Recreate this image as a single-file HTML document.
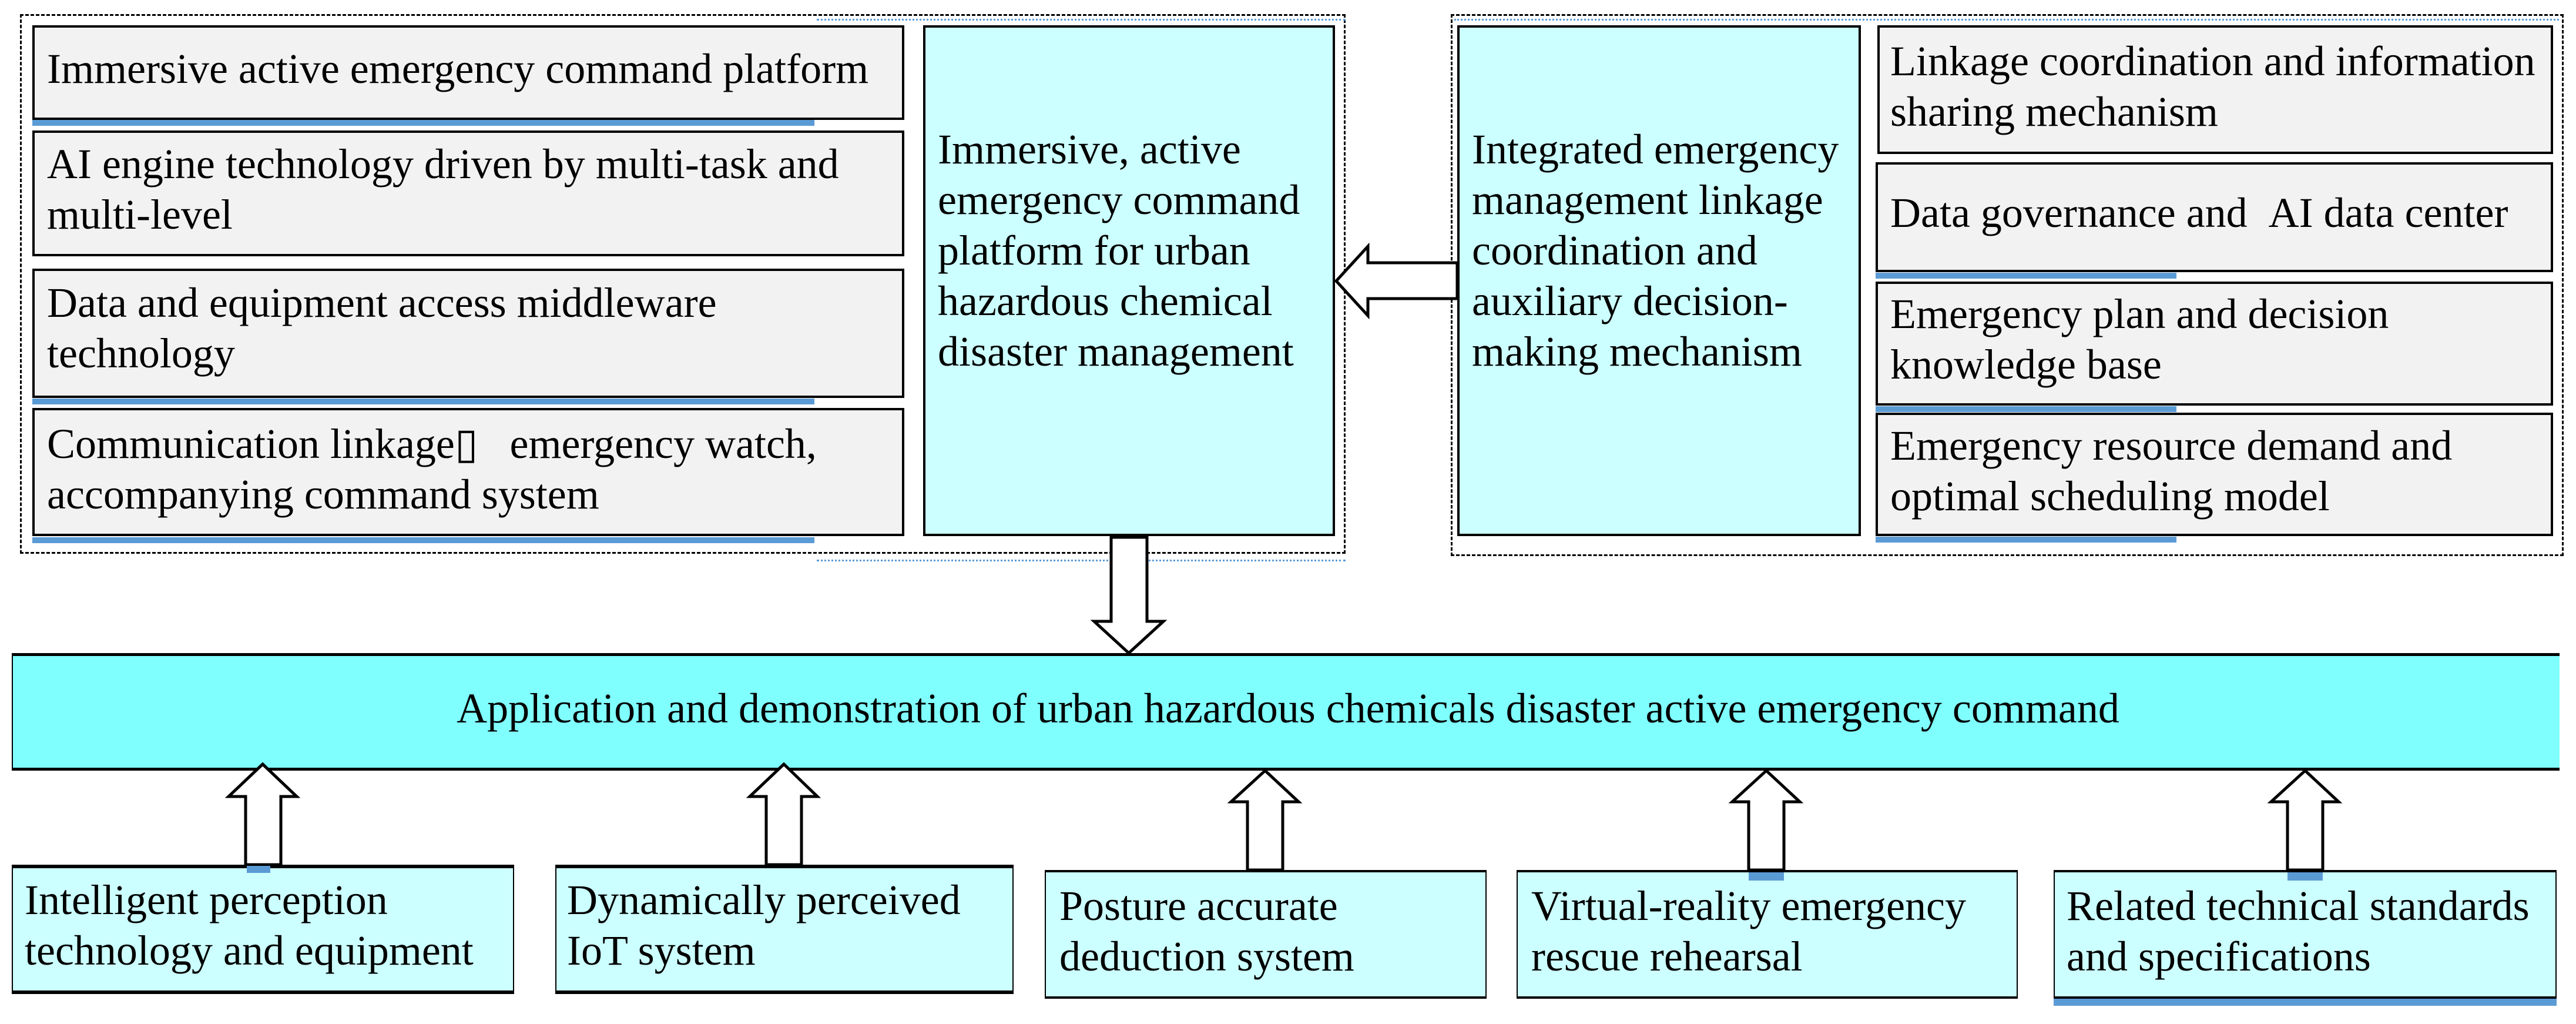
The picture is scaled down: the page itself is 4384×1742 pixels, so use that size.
<!DOCTYPE html>
<html><head><meta charset="utf-8"><style>
body{margin:0;width:4384px;height:1742px;background:#fff;position:relative;overflow:hidden;font-family:"Liberation Serif","Times New Roman",serif;}
.b{position:absolute;box-sizing:border-box;}
.g{background:#f2f2f2;border:4px solid #000;}
.c{background:#ccffff;border:4px solid #000;}
.t{position:absolute;font-size:72px;line-height:86px;color:#000;white-space:nowrap;}
.bar{position:absolute;background:#5b9bd5;height:10px;}
.d{position:absolute;box-sizing:border-box;border:3px dashed #000;}
</style></head><body>
<div class="d" style="left:34px;top:24px;width:2256px;height:918px"></div>
<div class="d" style="left:2469px;top:24px;width:1894px;height:922px"></div>
<div class="b" style="left:1390px;top:32px;width:900px;height:2px;border-top:3px dotted #5b9bd5"></div>
<div class="b" style="left:1390px;top:952px;width:900px;height:2px;border-top:3px dotted #5b9bd5"></div>
<div class="b" style="left:2475px;top:32px;width:1880px;height:2px;border-top:3px dotted #5b9bd5"></div>

<div class="b g" style="left:55px;top:43px;width:1484px;height:161px"></div>
<div class="bar" style="left:55px;top:204px;width:1331px"></div>
<div class="b g" style="left:55px;top:222px;width:1484px;height:214px"></div>
<div class="b g" style="left:55px;top:457px;width:1484px;height:220px"></div>
<div class="bar" style="left:55px;top:678px;width:1331px"></div>
<div class="b g" style="left:55px;top:694px;width:1484px;height:218px"></div>
<div class="bar" style="left:55px;top:914px;width:1331px"></div>
<div class="t" style="left:80px;top:74px">Immersive active emergency command platform</div>
<div class="t" style="left:80px;top:236px">AI engine technology driven by multi-task and<br>multi-level</div>
<div class="t" style="left:80px;top:472px">Data and equipment access middleware<br>technology</div>
<div class="t" style="left:80px;top:712px">Communication linkage&#9647;&nbsp;&nbsp;&nbsp;emergency watch,<br>accompanying command system</div>

<div class="b c" style="left:1571px;top:43px;width:701px;height:869px"></div>
<div class="t" style="left:1596px;top:211px">Immersive, active<br>emergency command<br>platform for urban<br>hazardous chemical<br>disaster management</div>

<div class="b c" style="left:2480px;top:43px;width:687px;height:869px"></div>
<div class="t" style="left:2505px;top:211px">Integrated emergency<br>management linkage<br>coordination and<br>auxiliary decision-<br>making mechanism</div>

<div class="b g" style="left:3195px;top:43px;width:1150px;height:219px"></div>
<div class="b g" style="left:3192px;top:276px;width:1153px;height:187px"></div>
<div class="bar" style="left:3192px;top:464px;width:512px"></div>
<div class="b g" style="left:3192px;top:479px;width:1153px;height:211px"></div>
<div class="bar" style="left:3192px;top:691px;width:512px"></div>
<div class="b g" style="left:3192px;top:702px;width:1153px;height:210px"></div>
<div class="bar" style="left:3192px;top:913px;width:512px"></div>
<div class="t" style="left:3217px;top:61px">Linkage coordination and information<br>sharing mechanism</div>
<div class="t" style="left:3217px;top:319px">Data governance and&nbsp;&nbsp;AI data center</div>
<div class="t" style="left:3217px;top:491px">Emergency plan and decision<br>knowledge base</div>
<div class="t" style="left:3217px;top:715px">Emergency resource demand and<br>optimal scheduling model</div>

<div class="b" style="left:20px;top:1111px;width:4336px;height:200px;background:#80ffff;border-top:5px solid #000;border-bottom:5px solid #000;border-left:2px solid #000;"></div>
<div class="t" style="left:0;width:4384px;text-align:center;top:1162px">Application and demonstration of urban hazardous chemicals disaster active emergency command</div>

<div class="b c" style="left:20px;top:1471px;width:855px;height:220px;border-width:6px 2px"></div>
<div class="b c" style="left:945px;top:1471px;width:780px;height:220px;border-width:6px 2px"></div>
<div class="b c" style="left:1778px;top:1480px;width:752px;height:219px;border-width:4px 2px"></div>
<div class="b c" style="left:2581px;top:1480px;width:853px;height:219px;border-width:4px 2px"></div>
<div class="b c" style="left:3495px;top:1480px;width:856px;height:219px;border-width:4px 2px"></div>
<div class="bar" style="left:3495px;top:1699px;width:856px;height:12px"></div>
<div class="t" style="left:42px;top:1488px">Intelligent perception<br>technology and equipment</div>
<div class="t" style="left:965px;top:1488px">Dynamically perceived<br>IoT system</div>
<div class="t" style="left:1803px;top:1498px">Posture accurate<br>deduction system</div>
<div class="t" style="left:2606px;top:1498px">Virtual-reality emergency<br>rescue rehearsal</div>
<div class="t" style="left:3517px;top:1498px">Related technical standards<br>and specifications</div>

<svg width="4384" height="1742" style="position:absolute;left:0;top:0" xmlns="http://www.w3.org/2000/svg">
<g fill="#fff" stroke="#000" stroke-width="5">
<polygon points="2480,447 2328,447 2328,419 2274,478 2328,537 2328,508 2480,508"/>
<polygon points="1891,914 1952,914 1952,1057 1980,1057 1921,1111 1862,1057 1891,1057"/>
<polygon points="418,1471 478,1471 478,1355 505,1355 447,1300 389,1355 418,1355"/>
<polygon points="1304,1471 1364,1471 1364,1355 1391,1355 1334,1300 1276,1355 1304,1355"/>
<polygon points="2123,1480 2183,1480 2183,1364 2210,1364 2153,1311 2095,1364 2123,1364"/>
<polygon points="2976,1480 3036,1480 3036,1364 3063,1364 3006,1311 2948,1364 2976,1364"/>
<polygon points="3893,1480 3953,1480 3953,1364 3980,1364 3923,1311 3865,1364 3893,1364"/>
</g>
<g fill="#5b9bd5">
<rect x="420" y="1473" width="40" height="12"/>
<rect x="2976" y="1484" width="60" height="14"/>
<rect x="3893" y="1484" width="60" height="14"/>
</g>
</svg>
</body></html>
